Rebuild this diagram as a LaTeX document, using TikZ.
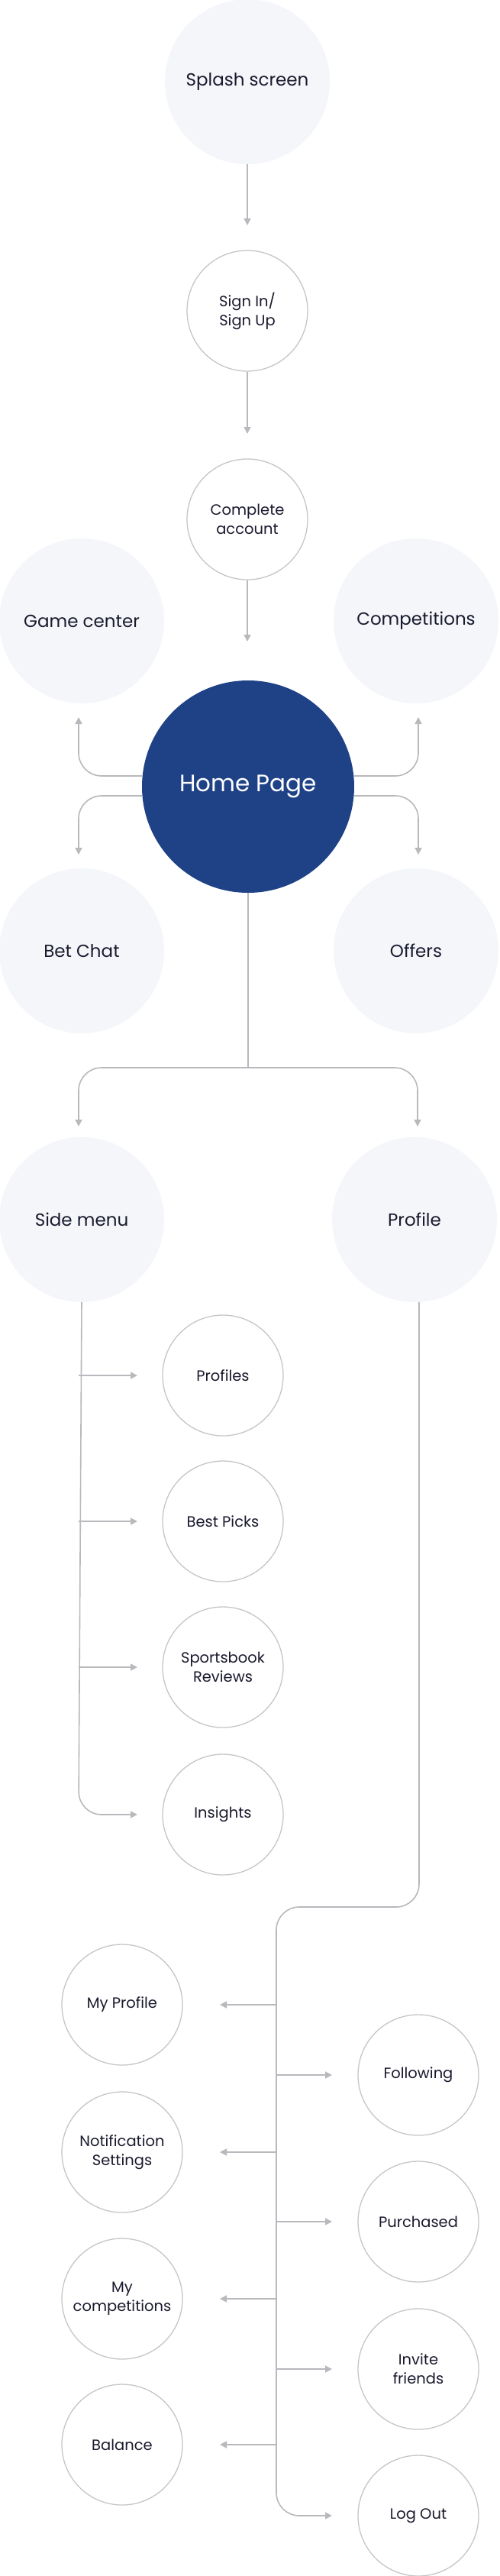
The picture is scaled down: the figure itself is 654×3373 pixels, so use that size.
\documentclass[tikz,border=0pt]{standalone}
\usepackage{fontspec}
\setmainfont{Poppins}
\usetikzlibrary{arrows.meta}
\definecolor{soft}{HTML}{F4F6FA}
\definecolor{ring}{HTML}{C6C6CA}
\definecolor{lnk}{HTML}{B8B8BD}
\definecolor{homeblue}{HTML}{1F4287}
\definecolor{txt}{HTML}{1A1A2E}
\begin{document}
\begin{tikzpicture}[x=1pt,y=-1pt,
  big/.style={circle,fill=soft,minimum size=216pt,inner sep=0pt,align=center,font=\fontsize{23}{28}\selectfont,text=txt},
  small/.style={circle,draw=ring,line width=1.3pt,fill=white,minimum size=158pt,inner sep=0pt,align=center,font=\fontsize{19.5}{25}\selectfont,text=txt},
  home/.style={circle,fill=homeblue,minimum size=278pt,inner sep=0pt,text=white,font=\fontsize{31}{36}\selectfont},
  ln/.style={draw=lnk,line width=1.6pt,rounded corners=30pt},
  ar/.style={ln,-{Triangle[length=9pt,width=9pt]}}]
\useasboundingbox (0,0) rectangle (654,3373);
\node[big] (splash) at (324,107) {Splash screen};
\node[small] (sign) at (324,407) {Sign In/\\Sign Up};
\node[small] (comp) at (324,680) {Complete\\account};
\node[big] (game) at (107,813) {Game center};
\node[big] (compet) at (545,813) {Competitions};
\node[home] (home) at (325,1030) {Home Page};
\node[big] (bet) at (107,1245) {Bet Chat};
\node[big] (offers) at (545,1245) {Offers};
\node[big] (side) at (107,1597) {Side menu};
\node[big] (profile) at (543,1597) {Profile};
\node[small] (profiles) at (292,1801) {Profiles};
\node[small] (best) at (292,1992) {Best Picks};
\node[small] (sport) at (292,2183) {Sportsbook\\Reviews};
\node[small] (ins) at (292,2376) {Insights};
\node[small] (myp) at (160,2625) {My Profile};
\node[small] (notif) at (160,2818) {Notification\\Settings};
\node[small] (mycomp) at (160,3010) {My\\competitions};
\node[small] (bal) at (160,3201) {Balance};
\node[small] (foll) at (548,2717) {Following};
\node[small] (purch) at (548,2909) {Purchased};
\node[small] (inv) at (548,3102) {Invite\\friends};
\node[small] (logout) at (548,3294) {Log Out};

\draw[ar] (splash.south) -- (324,295);
\draw[ar] (sign.south) -- (324,568);
\draw[ar] (comp.south) -- (324,840);
% home side branches
\draw[ar] (home.west |- 0,1016) -- (103,1016) -- (103,939);
\draw[ar] (home.west |- 0,1042) -- (103,1042) -- (103,1119);
\draw[ar] (home.east |- 0,1016) -- (548,1016) -- (548,939);
\draw[ar] (home.east |- 0,1042) -- (548,1042) -- (548,1119);
% home down
\coordinate (hb) at (325,1398);
\draw[ln] (home.south) -- (hb);
\draw[ar] (hb) -- (103,1398) -- (103,1475);
\draw[ar] (hb) -- (547,1398) -- (547,1475);
% side menu
\draw[ar] (side.south) -- (103,2376) -- (180,2376);
\draw[ar] (103,1801) -- (180,1801);
\draw[ar] (103,1992) -- (180,1992);
\draw[ar] (103,2183) -- (180,2183);
% profile
\draw[ar] (profile.south -| 549,0) -- (549,2497) -- (362,2497) -- (362,3294) -- (435,3294);
\foreach \y in {2625,2818,3010,3201} \draw[ar] (362,\y) -- (288,\y);
\foreach \y in {2717,2909,3102} \draw[ar] (362,\y) -- (435,\y);
\end{tikzpicture}
\end{document}
